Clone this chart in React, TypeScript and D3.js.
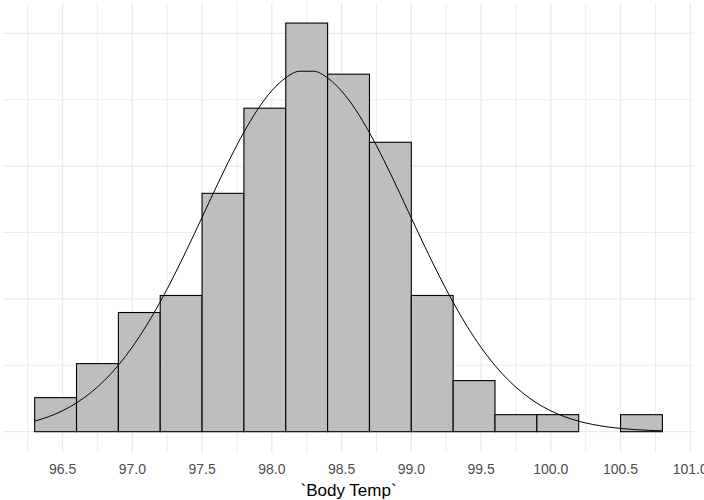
import React from "react";
import * as d3 from "d3";

// histogram of body temperature (binwidth 0.3), counts per bin
const binStarts = [96.3, 96.6, 96.9, 97.2, 97.5, 97.8, 98.1, 98.4, 98.7, 99.0, 99.3, 99.6, 99.9, 100.2, 100.5];
const binCounts = [2, 4, 7, 8, 14, 19, 24, 21, 17, 8, 3, 1, 1, 0, 1];
const binWidth = 0.3;

// normal density curve
const curveX = [96.3, 96.4, 96.5, 96.6, 96.7, 96.8, 96.9, 97.0, 97.1, 97.2, 97.3, 97.4, 97.5, 97.6, 97.7, 97.8, 97.9, 98.0, 98.1, 98.2, 98.3, 98.4, 98.5, 98.6, 98.7, 98.8, 98.9, 99.0, 99.1, 99.2, 99.3, 99.4, 99.5, 99.6, 99.7, 99.8, 99.9, 100.0, 100.1, 100.2, 100.3, 100.4, 100.5, 100.6, 100.7, 100.8];
const curveY = [0.0159, 0.0226, 0.0316, 0.0434, 0.0584, 0.0772, 0.1001, 0.1275, 0.1594, 0.1956, 0.2354, 0.2783, 0.3229, 0.3678, 0.4111, 0.4511, 0.4858, 0.5136, 0.533, 0.5429, 0.5428, 0.5327, 0.5131, 0.4852, 0.4503, 0.4103, 0.3668, 0.322, 0.2774, 0.2346, 0.1948, 0.1587, 0.1269, 0.0997, 0.0768, 0.0581, 0.0431, 0.0314, 0.0225, 0.0158, 0.0109, 0.0074, 0.0049, 0.0032, 0.002, 0.0013];

const xTicks = [96.5, 97.0, 97.5, 98.0, 98.5, 99.0, 99.5, 100.0, 100.5, 101.0];
const xTickLabels = ["96.5", "97.0", "97.5", "98.0", "98.5", "99.0", "99.5", "100.0", "100.5", "101.0"];
const xMinor = [96.25, 96.75, 97.25, 97.75, 98.25, 98.75, 99.25, 99.75, 100.25, 100.75];
const yMajor = [0, 0.2, 0.4, 0.6];
const yMinor = [0.1, 0.3, 0.5];

const W = 704;
const H = 500;

export default function App() {
  const total = d3.sum(binCounts);
  const density = binCounts.map((c) => c / (total * binWidth));

  const x = d3.scaleLinear().domain([96.25, 101.0]).range([27.7, 690.3]);
  const y = d3.scaleLinear().domain([0, 0.6]).range([431.7, 33.3]);

  // ggplot style 5% expansion
  const xLo = binStarts[0];
  const xHi = binStarts[binStarts.length - 1] + binWidth;
  const xPad = (xHi - xLo) * 0.05;
  const yMax = d3.max(density) as number;
  const left = x(xLo - xPad);
  const right = x(xHi + xPad);
  const top = y(yMax * 1.05);
  const bottom = y(-yMax * 0.05);

  const line = d3
    .line<number>()
    .x((_, i) => x(curveX[i]))
    .y((d) => y(d))
    .curve(d3.curveMonotoneX);

  const grid = "#ebebeb";

  return (
    <svg
      width={W}
      height={H}
      style={{ position: "absolute", left: 0, top: 0, background: "#fff" }}
      fontFamily="'Liberation Sans', Arial, sans-serif"
    >
      {xMinor.map((v) => (
        <line key={"xm" + v} x1={x(v)} x2={x(v)} y1={top} y2={bottom} stroke={grid} strokeWidth={0.9} />
      ))}
      {yMinor.map((v) => (
        <line key={"ym" + v} x1={left} x2={right} y1={y(v)} y2={y(v)} stroke={grid} strokeWidth={0.9} />
      ))}
      {xTicks.map((v) => (
        <line key={"xM" + v} x1={x(v)} x2={x(v)} y1={top} y2={bottom} stroke={grid} strokeWidth={1.3} />
      ))}
      {yMajor.map((v) => (
        <line key={"yM" + v} x1={left} x2={right} y1={y(v)} y2={y(v)} stroke={grid} strokeWidth={1.3} />
      ))}

      {binStarts.map((s, i) => (
        <rect
          key={s}
          x={x(s)}
          y={y(density[i])}
          width={x(s + binWidth) - x(s)}
          height={y(0) - y(density[i])}
          fill="#bebebe"
          stroke="#000"
          strokeWidth={1.1}
        />
      ))}

      <path d={line(curveY) ?? ""} fill="none" stroke="#000" strokeWidth={1} />

      {/* the reference crops the last label at the right edge */}
      {xTicks.map((v, i) => (
        <text
          key={"t" + v}
          x={x(v)}
          y={474}
          textAnchor="middle"
          fontSize={14}
          fill="#4d4d4d"
        >
          {xTickLabels[i]}
        </text>
      ))}
      <text x={(left + right) / 2} y={495.5} textAnchor="middle" fontSize={17} fill="#000">
        `Body Temp`
      </text>
    </svg>
  );
}
